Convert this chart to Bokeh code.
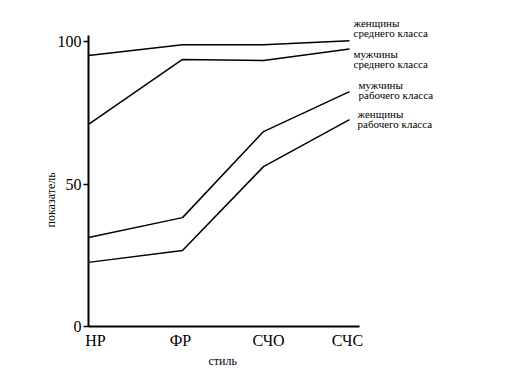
from bokeh.plotting import figure
from bokeh.models import FixedTicker, Title, ColumnDataSource
from bokeh.core.properties import value
from bokeh.embed import file_html
from bokeh.resources import INLINE

# Data
styles = ["НР", "ФР", "СЧО", "СЧС"]
style_x = [0, 94, 175, 261]          # positions of styles along the x axis
label_x = [7, 92, 180, 259]          # positions of style tick labels
women_middle = [95.1, 98.9, 98.9, 100.3]
men_middle = [70.9, 93.7, 93.3, 97.4]
men_working = [31.2, 38.2, 68.4, 82.4]
women_working = [22.5, 26.7, 56.1, 72.6]
series_names = [
    ("женщины", "среднего класса"),
    ("мужчины", "среднего класса"),
    ("мужчины", "рабочего класса"),
    ("женщины", "рабочего класса"),
]
y_ticks = [0, 50, 100]

FONT = "Liberation Serif"

# layout (pixels)
W, H = 494, 370
LEFT, TOP, BOTTOM = 88, 12, 326
PX_PER_UNIT = 2.85
X_AXIS_END = 271
Y_AXIS_END = 102.1

p = figure(width=W, height=H, output_backend="svg", toolbar_location=None,
           x_range=(0, W - LEFT), y_range=(0, (BOTTOM - TOP) / PX_PER_UNIT),
           min_border_left=LEFT, min_border_top=TOP, min_border_right=0,
           min_border_bottom=H - BOTTOM)
p.outline_line_color = None
p.grid.visible = False
p.background_fill_color = "white"
p.border_fill_color = "white"

for ys in (women_middle, men_middle, men_working, women_working):
    p.line(style_x, ys, line_color="black", line_width=1.5)

# X axis
xa = p.xaxis[0]
xa.bounds = (0, X_AXIS_END)
xa.ticker = FixedTicker(ticks=label_x)
xa.major_label_overrides = {lx: s for lx, s in zip(label_x, styles)}
xa.major_tick_line_color = None
xa.major_tick_in = 0
xa.major_tick_out = 0
xa.minor_tick_line_color = None
xa.axis_line_width = 2
xa.axis_line_color = "black"
xa.major_label_text_font = FONT
xa.major_label_text_font_size = "16px"
xa.major_label_text_color = "black"
xa.major_label_standoff = 5

# Y axis
ya = p.yaxis[0]
ya.bounds = (0, Y_AXIS_END)
ya.ticker = FixedTicker(ticks=y_ticks)
ya.minor_tick_line_color = None
ya.major_tick_in = 0
ya.major_tick_out = 5
ya.major_tick_line_width = 1.5
ya.major_tick_line_color = "black"
ya.axis_line_width = 2
ya.axis_line_color = "black"
ya.major_label_text_font = FONT
ya.major_label_text_font_size = "16px"
ya.major_label_text_color = "black"
ya.major_label_standoff = 2

p.add_layout(Title(text="показатель", align="left", offset=99, standoff=-6,
                   text_font=FONT, text_font_size="12px", text_font_style="normal",
                   text_color="black"), "left")
p.add_layout(Title(text="стиль", align="left", offset=120, standoff=0,
                   text_font=FONT, text_font_size="12px", text_font_style="normal",
                   text_color="black"), "below")

# Series labels at the right (pixel positions converted to data units)
label_pos = [(353, 22, 32), (353, 53, 63), (358, 84, 94), (357, 113, 123)]
tx, ty, tt = [], [], []
for (l1, l2), (lx, y1, y2) in zip(series_names, label_pos):
    for txt, py in ((l1, y1), (l2, y2)):
        tx.append(lx - LEFT)
        ty.append((BOTTOM - py) / PX_PER_UNIT)
        tt.append(txt)
src = ColumnDataSource(dict(x=tx, y=ty, text=tt))
p.text(x="x", y="y", text="text", source=src, text_font=value(FONT),
       text_font_size="11px", text_color="black", text_align="left",
       text_baseline="middle")

open("out.html", "w").write(file_html(p, INLINE))
